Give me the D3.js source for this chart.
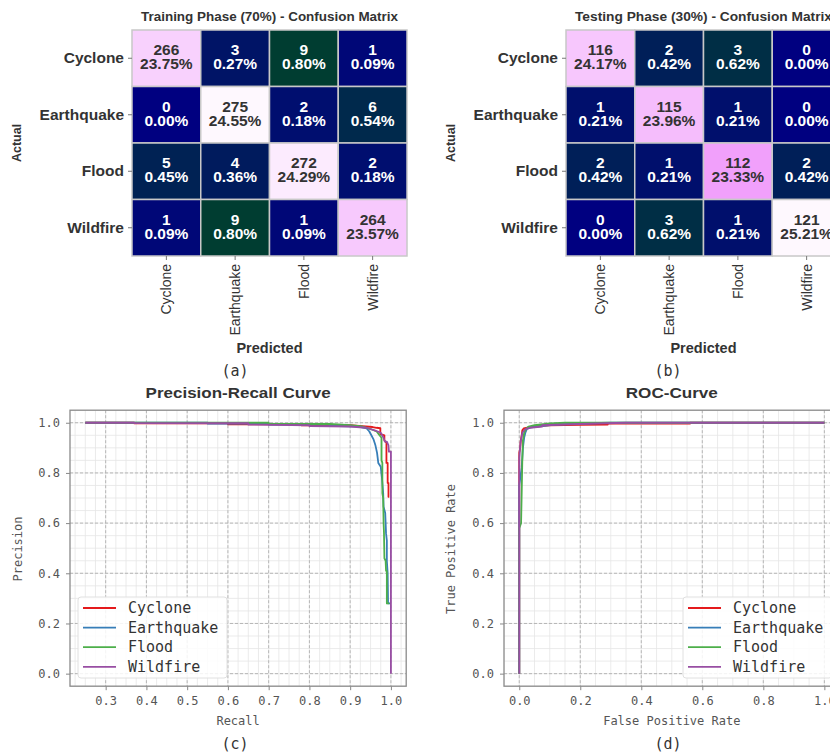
<!DOCTYPE html>
<html>
<head>
<meta charset="utf-8">
<script src="https://cdn.jsdelivr.net/npm/d3@7"></script>
<style>
  html, body { margin: 0; padding: 0; background: #fff; }
  svg { display: block; }
</style>
</head>
<body>
<svg id="chart" width="830" height="753"></svg>
<script>
// ---------------- DATA ----------------
const classes = ["Cyclone", "Earthquake", "Flood", "Wildfire"];
const trainMatrix = [
  [266, 3, 9, 1],
  [0, 275, 2, 6],
  [5, 4, 272, 2],
  [1, 9, 1, 264]
];
const testMatrix = [
  [116, 2, 3, 0],
  [1, 115, 1, 0],
  [2, 1, 112, 2],
  [0, 3, 1, 121]
];

// Precision-Recall curves: [recall, precision]
const prCyclone = [[0.25,1.0],[0.37,1.0],[0.37,0.998],[0.60,0.998],[0.60,0.994],[0.78,0.994],[0.78,0.99],[0.90,0.99],[0.93,0.986],[0.955,0.983],[0.965,0.98],[0.974,0.978],[0.974,0.955],[0.984,0.95],[0.984,0.93],[0.989,0.92],[0.989,0.84],[0.992,0.84],[0.992,0.76],[0.994,0.76],[0.994,0.705],[0.996,0.705]];
const prEarthquake = [[0.25,1.0],[0.55,1.0],[0.55,0.997],[0.70,0.997],[0.70,0.993],[0.85,0.993],[0.85,0.988],[0.92,0.985],[0.94,0.978],[0.947,0.965],[0.952,0.95],[0.957,0.935],[0.962,0.91],[0.966,0.88],[0.969,0.84],[0.975,0.825],[0.978,0.78],[0.981,0.72],[0.982,0.665],[0.986,0.64],[0.988,0.56],[0.99,0.53],[0.99,0.45],[0.992,0.40],[0.993,0.28],[0.998,0.28]];
const prFlood = [[0.25,1.0],[0.70,1.0],[0.70,0.996],[0.85,0.995],[0.90,0.99],[0.93,0.985],[0.95,0.975],[0.965,0.965],[0.972,0.95],[0.977,0.94],[0.977,0.85],[0.979,0.84],[0.979,0.72],[0.981,0.70],[0.982,0.60],[0.983,0.56],[0.984,0.46],[0.987,0.45],[0.988,0.41],[0.99,0.41],[0.99,0.28],[0.996,0.28]];
const prWildfire = [[0.25,1.0],[0.37,1.0],[0.37,0.999],[0.65,0.998],[0.65,0.993],[0.80,0.99],[0.80,0.987],[0.90,0.985],[0.94,0.98],[0.96,0.97],[0.975,0.96],[0.982,0.94],[0.985,0.925],[0.99,0.925],[0.994,0.91],[0.995,0.885],[1.0,0.885],[1.0,0.0]];

// ROC curves: [fpr, tpr]
const rocCyclone = [[0,0],[0,0.88],[0.003,0.90],[0.005,0.93],[0.008,0.95],[0.01,0.97],[0.015,0.978],[0.03,0.982],[0.06,0.986],[0.10,0.99],[0.20,0.992],[0.29,0.993],[0.29,0.997],[0.56,0.997],[0.56,1.0],[1.0,1.0]];
const rocEarthquake = [[0,0],[0,0.75],[0.008,0.82],[0.012,0.90],[0.016,0.94],[0.02,0.96],[0.025,0.975],[0.04,0.982],[0.08,0.988],[0.12,0.993],[0.2,0.997],[0.3,1.0],[1,1]];
const rocFlood = [[0,0],[0,0.58],[0.006,0.60],[0.008,0.72],[0.01,0.85],[0.012,0.93],[0.016,0.96],[0.022,0.975],[0.03,0.985],[0.05,0.99],[0.10,0.997],[0.15,1.0],[1,1]];
const rocWildfire = [[0,0],[0,0.86],[0.004,0.92],[0.01,0.96],[0.02,0.975],[0.035,0.98],[0.075,0.985],[0.075,0.99],[0.15,0.993],[0.25,0.997],[0.35,1.0],[1.0,1.0]];

const prTicksX = [0.3, 0.4, 0.5, 0.6, 0.7, 0.8, 0.9, 1.0];
const rocTicksX = [0.0, 0.2, 0.4, 0.6, 0.8, 1.0];
const ticksY = [0.0, 0.2, 0.4, 0.6, 0.8, 1.0];

// ---------------- STYLE ----------------
const seriesColors = ["#e41a1c", "#377eb8", "#4daf4a", "#984ea3"];
// gist_ncar colormap channels
const ncarR = [[0,0],[0.3098,0],[0.3725,0.3993],[0.4235,0.5003],[0.5333,1],[0.7922,1],[0.8471,0.6218],[0.898,0.9235],[1,0.9961]];
const ncarG = [[0,0],[0.051,0.3722],[0.1059,0],[0.1569,0.7202],[0.1608,0.7537],[0.1647,0.7752],[0.2157,1],[0.2588,0.9804],[0.2706,0.9804],[0.3176,1],[0.3686,0.8081],[0.4275,1],[0.5216,1],[0.6314,0.7292],[0.6863,0.2796],[0.7451,0],[0.7922,0],[0.8431,0.1753],[0.898,0.5],[1,0.9725]];
const ncarB = [[0,0.502],[0.051,0.0222],[0.1098,1],[0.2039,1],[0.2627,0.6145],[0.3216,0],[0.4157,0],[0.4745,0.2342],[0.5333,0],[0.5804,0],[0.6314,0],[0.6902,0],[0.7373,0],[0.7922,0],[0.8431,0.682],[0.898,0.9824],[1,0.9961]];
const chan = s => d3.scaleLinear().domain(s.map(d => d[0])).range(s.map(d => d[1])).clamp(true);
const cR = chan(ncarR), cG = chan(ncarG), cB = chan(ncarB);
const ncar = t => d3.rgb(255 * cR(t), 255 * cG(t), 255 * cB(t));

// percentage with round-half-even (as Python formatting does)
function pct(v, total) {
  const s = v * 10000 / total;
  const f = Math.floor(s);
  let r = Math.round(s);
  if (Math.abs(s - f - 0.5) < 1e-9) r = (f % 2 === 0) ? f : f + 1;
  return (r / 100).toFixed(2) + "%";
}

const svg = d3.select("#chart");
svg.append("rect").attr("width", 830).attr("height", 753).attr("fill", "#fff");

const sansB = "'Liberation Sans', Arial, sans-serif";
const mono = "'DejaVu Sans Mono', monospace";

// ---------------- HEATMAPS ----------------
function heatmap(matrix, x0, title, tag, tagX) {
  const y0 = 30, w = 275, h = 226;
  const g = svg.append("g");
  const x = d3.scaleBand().domain(classes).range([x0, x0 + w]);
  const y = d3.scaleBand().domain(classes).range([y0, y0 + h]);
  const maxV = d3.max(matrix.flat());
  const total = d3.sum(matrix.flat());
  const cells = [];
  matrix.forEach((row, i) => row.forEach((v, j) => cells.push({ r: classes[i], c: classes[j], v })));
  const cg = g.selectAll("g.cell").data(cells).join("g");
  cg.append("rect")
    .attr("x", d => x(d.c)).attr("y", d => y(d.r))
    .attr("width", x.bandwidth()).attr("height", y.bandwidth())
    .attr("fill", d => ncar(d.v / maxV))
    .attr("stroke", "#c8c8c8").attr("stroke-width", 1.5);
  const txtColor = d => {
    const c = ncar(d.v / maxV);
    const lum = 0.299 * c.r + 0.587 * c.g + 0.114 * c.b;
    return lum > 128 ? "#333" : "#fff";
  };
  cg.append("text")
    .attr("x", d => x(d.c) + x.bandwidth() / 2)
    .attr("y", d => y(d.r) + y.bandwidth() / 2 - 3)
    .attr("text-anchor", "middle")
    .attr("font-family", sansB).attr("font-weight", "bold").attr("font-size", 15.5)
    .attr("fill", txtColor)
    .text(d => d.v);
  cg.append("text")
    .attr("x", d => x(d.c) + x.bandwidth() / 2)
    .attr("y", d => y(d.r) + y.bandwidth() / 2 + 11)
    .attr("text-anchor", "middle")
    .attr("font-family", sansB).attr("font-weight", "bold").attr("font-size", 15.5)
    .attr("fill", txtColor)
    .text(d => pct(d.v, total));

  // axes
  const ay = g.append("g").attr("transform", `translate(${x0},0)`)
    .call(d3.axisLeft(y).tickSize(4).tickPadding(4));
  ay.select(".domain").remove();
  ay.selectAll("line").attr("stroke", "#777");
  ay.selectAll("text").attr("font-family", sansB).attr("font-weight", "bold")
    .attr("font-size", 15.5).attr("fill", "#333");
  const ax = g.append("g").attr("transform", `translate(0,${y0 + h})`)
    .call(d3.axisBottom(x).tickSize(4).tickPadding(4));
  ax.select(".domain").remove();
  ax.selectAll("line").attr("stroke", "#777");
  ax.selectAll("text")
    .attr("font-family", sansB).attr("font-size", 14).attr("fill", "#333")
    .attr("transform", "rotate(-90)")
    .attr("text-anchor", "end").attr("dy", "0.35em").attr("y", 0).attr("x", -8);

  g.append("text").attr("x", x0 + w / 2).attr("y", 21)
    .attr("text-anchor", "middle").attr("font-family", sansB).attr("font-weight", "bold")
    .attr("font-size", 12).attr("fill", "#333")
    .attr("textLength", 257).attr("lengthAdjust", "spacingAndGlyphs").text(title);
  g.append("text").attr("x", x0 + w / 2).attr("y", 353)
    .attr("text-anchor", "middle").attr("font-family", sansB).attr("font-weight", "bold")
    .attr("font-size", 14.5).attr("fill", "#333").text("Predicted");
  g.append("text").attr("transform", `translate(${x0 - 111},143) rotate(-90)`)
    .attr("text-anchor", "middle").attr("font-family", sansB).attr("font-weight", "bold")
    .attr("font-size", 12.5).attr("fill", "#333").text("Actual");
  g.append("text").attr("x", tagX).attr("y", 376)
    .attr("text-anchor", "middle").attr("font-family", mono)
    .attr("font-size", 15).attr("fill", "#333").text(tag);
}
heatmap(trainMatrix, 132, "Training Phase (70%) - Confusion Matrix", "(a)", 235);
heatmap(testMatrix, 566, "Testing Phase (30%) - Confusion Matrix", "(b)", 668);

// ---------------- LINE PLOTS ----------------
function linePlot(cfg) {
  const { left, right, xDomain, xTicks, xMinorStep, series, title, titleLen, xLabel, yLabel, tag, tagX, legendX, id } = cfg;
  const top = 410.2, bottom = 686.2;
  const x = d3.scaleLinear().domain(xDomain).range([left, right]);
  const y = d3.scaleLinear().domain([-0.05, 1.05]).range([bottom, top]);
  const g = svg.append("g");

  g.append("clipPath").attr("id", id).append("rect")
    .attr("x", left).attr("y", top).attr("width", right - left).attr("height", bottom - top);

  // minor grid
  const xMinor = d3.range(Math.ceil(xDomain[0] / xMinorStep), Math.floor(xDomain[1] / xMinorStep) + 1).map(k => +(k * xMinorStep).toFixed(4));
  const yMinor = d3.range(-1, 22).map(k => +(k * 0.05).toFixed(4)).filter(v => v >= -0.05 && v <= 1.05);
  const grid = g.append("g").attr("clip-path", `url(#${id})`);
  grid.selectAll("line.xm").data(xMinor).join("line")
    .attr("x1", d => x(d)).attr("x2", d => x(d)).attr("y1", top).attr("y2", bottom)
    .attr("stroke", "#e6e6e6").attr("stroke-width", 0.8);
  grid.selectAll("line.ym").data(yMinor).join("line")
    .attr("y1", d => y(d)).attr("y2", d => y(d)).attr("x1", left).attr("x2", right)
    .attr("stroke", "#e6e6e6").attr("stroke-width", 0.8);
  grid.selectAll("line.xM").data(xTicks).join("line")
    .attr("x1", d => x(d)).attr("x2", d => x(d)).attr("y1", top).attr("y2", bottom)
    .attr("stroke", "#b0b0b0").attr("stroke-width", 0.9).attr("stroke-dasharray", "3,2");
  grid.selectAll("line.yM").data(ticksY).join("line")
    .attr("y1", d => y(d)).attr("y2", d => y(d)).attr("x1", left).attr("x2", right)
    .attr("stroke", "#b0b0b0").attr("stroke-width", 0.9).attr("stroke-dasharray", "3,2");

  // curves
  const line = d3.line().x(d => x(d[0])).y(d => y(d[1]));
  const curves = g.append("g").attr("clip-path", `url(#${id})`);
  series.forEach((s, i) => {
    curves.append("path").datum(s).attr("d", line)
      .attr("fill", "none").attr("stroke", seriesColors[i]).attr("stroke-width", 1.8)
      .attr("stroke-linejoin", "round");
  });

  // axes
  const axB = g.append("g").attr("transform", `translate(0,${bottom})`);
  axB.call(d3.axisBottom(x).tickValues(xMinor).tickSize(2).tickFormat(""));
  axB.call(d3.axisBottom(x).tickValues(xTicks).tickSize(4).tickPadding(6).tickFormat(d3.format(".1f")));
  const axL = g.append("g").attr("transform", `translate(${left},0)`);
  axL.call(d3.axisLeft(y).tickValues(yMinor).tickSize(2).tickFormat(""));
  axL.call(d3.axisLeft(y).tickValues(ticksY).tickSize(4).tickPadding(6).tickFormat(d3.format(".1f")));
  [axB, axL].forEach(a => {
    a.selectAll(".domain").remove();
    a.selectAll("line").attr("stroke", "#888");
    a.selectAll("text").attr("font-family", mono).attr("font-size", 12).attr("fill", "#555");
  });

  // frame
  g.append("rect").attr("x", left).attr("y", top).attr("width", right - left).attr("height", bottom - top)
    .attr("fill", "none").attr("stroke", "#8a8a8a").attr("stroke-width", 1.3);

  // legend
  const lg = g.append("g");
  lg.append("rect").attr("x", legendX).attr("y", 597).attr("width", 149).attr("height", 81)
    .attr("rx", 3).attr("fill", "#fff").attr("fill-opacity", 0.85).attr("stroke", "#e0e0e0");
  classes.forEach((c, i) => {
    const yy = 608 + i * 19.6;
    lg.append("line").attr("x1", legendX + 5).attr("x2", legendX + 38).attr("y1", yy).attr("y2", yy)
      .attr("stroke", seriesColors[i]).attr("stroke-width", 1.8);
    lg.append("text").attr("x", legendX + 50).attr("y", yy).attr("dy", "0.35em")
      .attr("font-family", mono).attr("font-size", 15).attr("fill", "#333").text(c);
  });

  const cx = (left + right) / 2;
  g.append("text").attr("x", cx).attr("y", 398).attr("text-anchor", "middle")
    .attr("font-family", sansB).attr("font-weight", "bold").attr("font-size", 15.5).attr("fill", "#333")
    .attr("textLength", titleLen).attr("lengthAdjust", "spacingAndGlyphs").text(title);
  g.append("text").attr("x", cx).attr("y", 725).attr("text-anchor", "middle")
    .attr("font-family", mono).attr("font-size", 12).attr("fill", "#555").text(xLabel);
  g.append("text").attr("transform", `translate(${cfg.yLabelX},549) rotate(-90)`).attr("text-anchor", "middle")
    .attr("font-family", mono).attr("font-size", 12).attr("fill", "#555").text(yLabel);
  g.append("text").attr("x", tagX).attr("y", 749).attr("text-anchor", "middle")
    .attr("font-family", mono).attr("font-size", 15).attr("fill", "#333").text(tag);
}

linePlot({
  id: "clipPR", left: 70, right: 406.2, xDomain: [0.2125, 1.0375], xTicks: prTicksX, xMinorStep: 0.025,
  series: [prCyclone, prEarthquake, prFlood, prWildfire],
  title: "Precision-Recall Curve", titleLen: 185, xLabel: "Recall", yLabel: "Precision", yLabelX: 22,
  tag: "(c)", tagX: 235, legendX: 78
});
linePlot({
  id: "clipROC", left: 504, right: 839.6, xDomain: [-0.05, 1.05], xTicks: rocTicksX, xMinorStep: 0.05,
  series: [rocCyclone, rocEarthquake, rocFlood, rocWildfire],
  title: "ROC-Curve", titleLen: 92, xLabel: "False Positive Rate", yLabel: "True Positive Rate", yLabelX: 455,
  tag: "(d)", tagX: 668, legendX: 683
});
</script>
</body>
</html>
